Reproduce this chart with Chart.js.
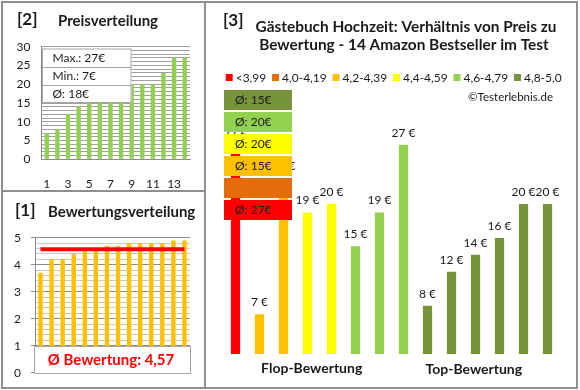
<!DOCTYPE html>
<html><head><meta charset="utf-8">
<script src="https://cdn.jsdelivr.net/npm/chart.js@4/dist/chart.umd.min.js"></script>
<style>
html,body{margin:0;padding:0;background:#fff;}
#wrap{position:relative;width:580px;height:390px;overflow:hidden;}
canvas{position:absolute;}
.b{position:absolute;background:#8e8e8e;}
</style></head><body>
<div id="wrap">
<canvas id="c2" width="205" height="191" style="left:0;top:0"></canvas>
<canvas id="c1" width="205" height="199" style="left:0;top:191px"></canvas>
<canvas id="c3" width="375" height="390" style="left:205px;top:0"></canvas>
<div class="b" style="left:1px;top:1px;width:577px;height:2px"></div>
<div class="b" style="left:1px;top:387px;width:577px;height:2px"></div>
<div class="b" style="left:1px;top:1px;width:2px;height:388px"></div>
<div class="b" style="left:576px;top:1px;width:2px;height:388px"></div>
<div class="b" style="left:204px;top:1px;width:2px;height:388px"></div>
<div class="b" style="left:1px;top:190px;width:204px;height:2px"></div>
</div>
<script>
// ---------- DATA ----------
const productIndex = ['1','2','3','4','5','6','7','8','9','10','11','12','13','14'];
const sortedPrices = [7, 8, 12, 14, 15, 16, 19, 19, 20, 20, 20, 23, 27, 27];
const ratings = [3.7, 4.2, 4.2, 4.4, 4.5, 4.6, 4.7, 4.7, 4.8, 4.8, 4.8, 4.8, 4.9, 4.9];
const avgRating = 4.57;
const avgRatingText = 'Ø Bewertung: 4,57';
const pricesByRating = [27, 7, 23, 19, 20, 15, 19, 27, 8, 12, 14, 16, 20, 20];
const priceStats = ['Max.: 27€', 'Min.: 7€', 'Ø: 18€'];
const priceTicks = [0, 5, 10, 15, 20, 25, 30];
const ratingTicks = [0, 1, 2, 3, 4, 5];
const legendLabels = ['<3,99', '4,0-4,19', '4,2-4,39', '4,4-4,59', '4,6-4,79', '4,8-5,0'];
const legendLower = [0, 4.0, 4.2, 4.4, 4.6, 4.8];
const groupAvgLabels = ['Ø: 27€', '', 'Ø: 15€', 'Ø: 20€', 'Ø: 20€', 'Ø: 15€']; // same order as legend
const groupLabels = ['Flop-Bewertung', 'Top-Bewertung'];
const title3 = ['Gästebuch Hochzeit: Verhältnis von Preis zu', 'Bewertung - 14 Amazon Bestseller im Test'];

// ---------- STYLE ----------
const FONT = 'Lato, "Noto Sans", sans-serif';
const groupColors = ['#FF0000', '#E46C0A', '#FFC000', '#FFFF00', '#92D050', '#77933C'];
const TXT = '#1a1a1a';
function groupOf(r){ let g = 0; for (let i = 0; i < legendLower.length; i++) if (r >= legendLower[i] - 1e-9) g = i; return g; }
function font(size, bold){ return (bold ? 'bold ' : '') + size + 'px ' + FONT; }
const noPlug = {legend:{display:false}, tooltip:{enabled:false}};

// ---------- PANEL 2 ----------
const p2 = {
  id:'p2',
  afterDraw(chart){
    const c = chart.ctx; c.save();
    c.fillStyle = TXT; c.textBaseline = 'middle'; c.textAlign = 'left';
    c.font = font(17, true); c.fillText('[2]', 17, 20);
    c.font = font(15, true); c.fillText('Preisverteilung', 58, 21);
    const x0 = 42, x1 = 131.5, ys = [48.5, 66.5, 84.5, 103];
    c.fillStyle = '#fff'; c.fillRect(x0, ys[0], x1 - x0, ys[3] - ys[0]);
    c.strokeStyle = '#a6a6a6'; c.lineWidth = 1;
    c.strokeRect(x0 + 0.5, ys[0] + 0.5, x1 - x0 - 1, ys[3] - ys[0] - 1);
    for (let i = 1; i < 3; i++){ c.beginPath(); c.moveTo(x0, Math.round(ys[i]) + 0.5); c.lineTo(x1, Math.round(ys[i]) + 0.5); c.stroke(); }
    c.fillStyle = TXT; c.font = font(12, false);
    priceStats.forEach((t, i) => c.fillText(t, 52.5, (ys[i] + ys[i + 1]) / 2 + 0.5));
    c.restore();
  }
};
new Chart(document.getElementById('c2'), {
  type:'bar',
  data:{labels:productIndex, datasets:[{data:sortedPrices, backgroundColor:'#92D050', barPercentage:0.41, categoryPercentage:1}]},
  options:{
    responsive:false, animation:false, events:[],
    layout:{padding:{top:46.7, right:15, left:0, bottom:0}},
    plugins:noPlug,
    scales:{
      x:{grid:{display:false}, border:{display:true, color:'#8c8c8c'},
         ticks:{autoSkip:false, maxRotation:0, padding:9.5, color:TXT, font:{family:FONT, size:12},
                callback:(v, i) => i % 2 === 0 ? productIndex[i] : ''},
         afterFit:s => { s.height = 31.7; }},
      y:{min:0, max:30, grid:{drawTicks:false, color:'#a0a0a0'}, border:{display:true, color:'#8c8c8c'},
         ticks:{stepSize:1, maxTicksLimit:100, autoSkip:false, padding:11, color:TXT, font:{family:FONT, size:12},
                callback:v => priceTicks.includes(v) ? String(v) : ''},
         afterFit:s => { s.width = 41.5; }}
    }
  },
  plugins:[p2]
});

// ---------- PANEL 1 ----------
const p1 = {
  id:'p1',
  afterDraw(chart){
    const c = chart.ctx; c.save();
    c.fillStyle = TXT; c.textBaseline = 'middle'; c.textAlign = 'left';
    c.font = font(17, true); c.fillText('[1]', 15, 20);
    c.font = font(15, true); c.fillText('Bewertungsverteilung', 48, 21);
    const ys = chart.scales.y;
    const x0 = 34.5, x1 = 190.5, y0 = Math.round(ys.getPixelForValue(1)) + 0.5, y1 = Math.round(ys.getPixelForValue(0)) + 0.5;
    c.fillStyle = '#fff'; c.fillRect(x0, y0, x1 - x0, y1 - y0);
    c.strokeStyle = '#a6a6a6'; c.lineWidth = 1; c.strokeRect(x0, y0, x1 - x0, y1 - y0);
    c.fillStyle = '#FF0000'; c.textAlign = 'center'; c.font = font(15, true);
    c.fillText(avgRatingText, 111, (y0 + y1) / 2 + 0.5);
    c.restore();
  }
};
const isInt = v => Math.abs(v - Math.round(v)) < 1e-6;
new Chart(document.getElementById('c1'), {
  type:'bar',
  data:{labels:productIndex, datasets:[
    {type:'line', data:ratings.map(() => avgRating), borderColor:'#FF0000', borderWidth:4, pointRadius:0, order:0},
    {data:ratings, backgroundColor:'#FFC000', barPercentage:0.4, categoryPercentage:1, order:1}
  ]},
  options:{
    responsive:false, animation:false, events:[],
    layout:{padding:{top:46.7, right:15, left:0, bottom:17.3}},
    plugins:noPlug,
    scales:{
      x:{display:false, offset:true},
      y:{min:0, max:5, border:{display:true, color:'#8c8c8c'},
         grid:{tickLength:4, color:ctx => isInt(ctx.tick.value) ? '#8c8c8c' : '#c8c8c8',
               tickColor:ctx => isInt(ctx.tick.value) ? '#8c8c8c' : 'rgba(0,0,0,0)'},
         ticks:{stepSize:0.2, maxTicksLimit:100, autoSkip:false, padding:10, color:TXT, font:{family:FONT, size:12},
                callback:v => isInt(v) && ratingTicks.includes(Math.round(v)) ? String(Math.round(v)) : ''},
         afterFit:s => { s.width = 35; }}
    }
  },
  plugins:[p1]
});

// ---------- PANEL 3 ----------
const barColors = ratings.map(r => groupColors[groupOf(r)]);
const p3 = {
  id:'p3',
  afterDatasetsDraw(chart){
    const c = chart.ctx, meta = chart.getDatasetMeta(0); c.save();
    c.fillStyle = TXT; c.font = font(12, false); c.textAlign = 'center'; c.textBaseline = 'middle';
    meta.data.forEach((el, i) => c.fillText(pricesByRating[i] + ' €', el.x, el.y - 12));
    const bx = 19, bw = 68;
    for (let k = 0; k < 6; k++){
      const g = 5 - k, y = 90 + k * 22;
      c.fillStyle = groupColors[g]; c.fillRect(bx, y, bw, 20);
      if (groupAvgLabels[g]){
        c.fillStyle = TXT; c.textAlign = 'left'; c.font = font(12, false);
        c.fillText(groupAvgLabels[g], 30, y + 10.5);
      }
    }
    c.restore();
  },
  afterDraw(chart){
    const c = chart.ctx; c.save();
    c.fillStyle = TXT; c.textBaseline = 'middle';
    c.textAlign = 'left'; c.font = font(17, true); c.fillText('[3]', 18, 21);
    c.textAlign = 'center'; c.font = font(15.4, true);
    c.fillText(title3[0], 201, 27); c.fillText(title3[1], 199, 45);
    c.font = font(12, false); c.textAlign = 'left';
    const sq = 7, gap = 3;
    const widths = legendLabels.map(t => c.measureText(t).width);
    const natural = widths.reduce((s, w) => s + w + sq + gap, 0);
    const start = 20.7, end = 356.7;
    const sp = (end - start - natural) / (legendLabels.length - 1);
    let x = start;
    legendLabels.forEach((t, i) => {
      c.fillStyle = groupColors[i]; c.fillRect(x, 74, sq, sq);
      c.fillStyle = TXT; c.fillText(t, x + sq + gap, 78);
      x += sq + gap + widths[i] + sp;
    });
    c.textAlign = 'right'; c.font = font(11.5, false); c.fillText('©Testerlebnis.de', 348, 97);
    c.textAlign = 'center'; c.font = font(14, true);
    c.fillText(groupLabels[0], 106.7, 368.5); c.fillText(groupLabels[1], 268.8, 369.5);
    c.restore();
  }
};
new Chart(document.getElementById('c3'), {
  type:'bar',
  data:{labels:productIndex, datasets:[{data:pricesByRating, backgroundColor:barColors, barPercentage:0.385, categoryPercentage:1}]},
  options:{
    responsive:false, animation:false, events:[],
    layout:{padding:{top:99.75, right:20.5, left:18.5, bottom:36}},
    plugins:noPlug,
    scales:{
      x:{display:false},
      y:{display:false, min:2.3, max:32.3}
    }
  },
  plugins:[p3]
});
</script>
</body></html>
